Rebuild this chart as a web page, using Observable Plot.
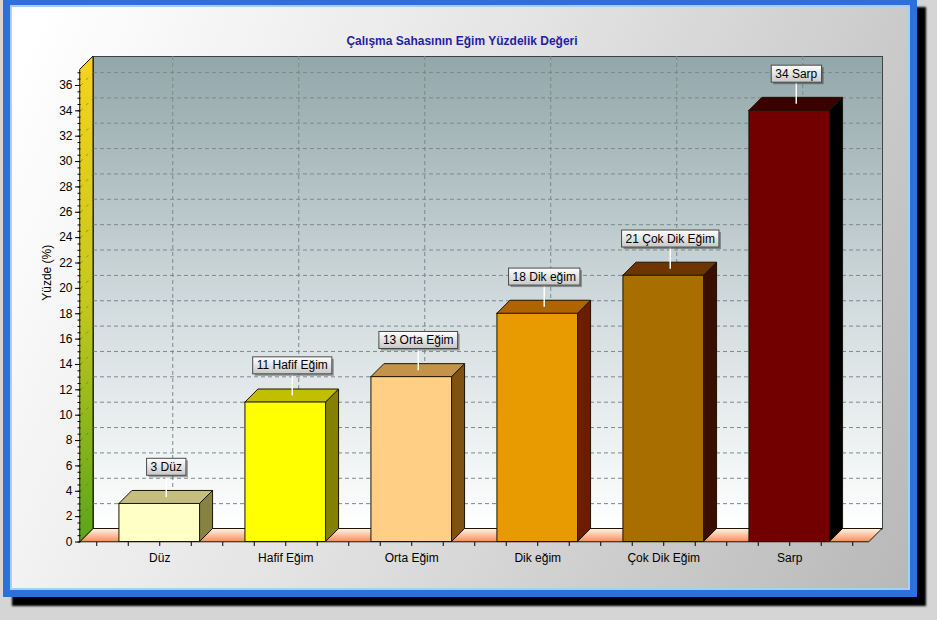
<!DOCTYPE html>
<html>
<head>
<meta charset="utf-8">
<script src="https://cdn.jsdelivr.net/npm/d3@7"></script>
<script src="https://cdn.jsdelivr.net/npm/@observablehq/plot@0.6"></script>
<style>
  html, body { margin: 0; padding: 0; width: 937px; height: 620px; overflow: hidden; background: #d5d5d5; font-family: "Liberation Sans", Arial, sans-serif; }
  #panel { position: absolute; left: 3px; top: -2px; width: 900px; height: 585px;
    border: 7px solid #2a72da;
    box-shadow: inset 0 0 0 2px #a9cdf3, 9px 9px 2px #000;
    background: linear-gradient(115deg, #ffffff 3%, #e4e4e4 45%, #b8b8b8 100%); }
  #chart { position: absolute; left: 0; top: 0; }
  #title { position: absolute; left: 0; width: 924px; top: 34px; text-align: center;
    font: bold 12px "Liberation Sans", Arial, sans-serif; color: #1f1fa6; }
</style>
</head>
<body>
<div id="panel"></div>
<div id="chart"></div>
<div id="title">Çalışma Sahasının Eğim Yüzdelik Değeri</div>
<script>
// ---- data ----
const categories = ["Düz", "Hafif Eğim", "Orta Eğim", "Dik eğim", "Çok Dik Eğim", "Sarp"];
const values = [3, 11, 13, 18, 21, 34];
const frontColors = ["#ffffc6", "#ffff00", "#ffcf85", "#e89b00", "#a86f00", "#720000"];
const topColors   = ["#c4bf80", "#c2bf00", "#c4934a", "#b06400", "#6e3500", "#3a0000"];
const sideColors  = ["#85833f", "#848000", "#7e5212", "#6b1d00", "#3a0f00", "#000000"];
const yTicks = [0, 2, 4, 6, 8, 10, 12, 14, 16, 18, 20, 22, 24, 26, 28, 30, 32, 34, 36];
const yLabel = "Yüzde (%)";

// ---- layout ----
const W = 937, H = 620, mL = 80, mR = 68, mT = 69, mB = 78.5;
const xDomain = [-0.629, 5.633];
const yDomain = [0, 37.26];
const pxX = (W - mL - mR) / (xDomain[1] - xDomain[0]);
const pxY = (H - mT - mB) / (yDomain[1] - yDomain[0]);
const DEPTH = 13;
const dxu = DEPTH / pxX, dyu = DEPTH / pxY;
const hw = 0.32; // half bar width (fraction of step)

const bars = categories.map((c, i) => ({
  i, c, v: values[i], front: frontColors[i], top: topColors[i], side: sideColors[i],
  label: `${values[i]} ${c}`
}));
const sidePts = bars.flatMap(b => [
  {c: b.c, x: b.i + hw, y1: 0, y2: b.v, f: b.side},
  {c: b.c, x: b.i + hw + dxu, y1: dyu, y2: b.v + dyu, f: b.side}
]);
const topPts = bars.flatMap(b => [
  {c: b.c, y: b.v, x1: b.i - hw, x2: b.i + hw, f: b.top},
  {c: b.c, y: b.v + dyu, x1: b.i - hw + dxu, x2: b.i + hw + dxu, f: b.top}
]);
const floorPts = [
  {y: 0, x1: xDomain[0], x2: xDomain[1]},
  {y: dyu, x1: xDomain[0] + dxu, x2: xDomain[1] + dxu}
];
const leftWallPts = [
  {x: xDomain[0], y1: 0, y2: yDomain[1]},
  {x: xDomain[0] + dxu, y1: dyu, y2: yDomain[1] + dyu}
];
const minorY = d3.range(0, 37.01, 0.5);
const minorX = d3.range(-0.5, 5.51, 0.25);
const ink = "#1b1400";

const plot = Plot.plot({
  width: W, height: H,
  marginLeft: mL, marginRight: mR, marginTop: mT, marginBottom: mB,
  x: {domain: xDomain},
  y: {domain: yDomain},
  color: {type: "identity"},
  style: {background: "transparent", fontFamily: "'Liberation Sans', Arial, sans-serif", fontSize: "12px", color: "#000", overflow: "visible"},
  marks: [
    // back wall
    Plot.frame({fill: "url(#wallB)", stroke: "#3c4444", dx: DEPTH, dy: -DEPTH}),
    Plot.ruleY(yTicks.filter(v => v > 0), {dx: DEPTH, dy: -DEPTH, stroke: "#7b8a8c", strokeDasharray: "4,3"}),
    Plot.ruleX(bars, {x: "i", dx: DEPTH, dy: -DEPTH, stroke: "#7b8a8c", strokeDasharray: "4,3"}),
    // floor
    Plot.areaX(floorPts, {y: "y", x1: "x1", x2: "x2", fill: "url(#floorG)", stroke: ink, strokeWidth: 1}),
    // left wall
    Plot.areaY(leftWallPts, {x: "x", y1: "y1", y2: "y2", fill: "url(#wallL)", stroke: ink, strokeWidth: 1}),
    Plot.link(yTicks.filter(v => v > 0), {x1: () => xDomain[0], y1: v => v, x2: () => xDomain[0] + dxu, y2: v => v + dyu, stroke: "#6b6a10", strokeOpacity: 0.6, strokeDasharray: "3,5"}),
    // axis ticks
    Plot.link(minorY, {x1: () => xDomain[0] - 3 / pxX, x2: () => xDomain[0], y1: v => v, y2: v => v, stroke: "#000"}),
    Plot.link(minorX, {x1: v => v, x2: v => v, y1: () => 0, y2: () => -4 / pxY, stroke: "#000"}),
    Plot.axisY(yTicks, {tickSize: 5, tickPadding: 3, fontSize: 12, label: null}),
    Plot.axisX(bars.map(b => b.i), {tickSize: 0, tickPadding: 11, fontSize: 12, label: null, tickFormat: i => categories[i]}),
    Plot.text([yLabel], {frameAnchor: "left", rotate: -90, dx: -33, dy: -5, fontSize: 12}),
    // 3D bars
    Plot.areaY(sidePts, {x: "x", y1: "y1", y2: "y2", z: "c", fill: d => d.f, stroke: ink, strokeWidth: 1}),
    Plot.areaX(topPts, {y: "y", x1: "x1", x2: "x2", z: "c", fill: d => d.f, stroke: ink, strokeWidth: 1}),
    Plot.rect(bars, {x1: d => d.i - hw, x2: d => d.i + hw, y1: () => 0, y2: "v", fill: d => d.front, stroke: ink, strokeWidth: 1}),
    // value labels
    Plot.ruleX(bars, {x: d => d.i + dxu / 2, y1: d => d.v + dyu / 2, y2: d => d.v + dyu / 2 + 22 / pxY, stroke: "#ffffff", strokeWidth: 1.5}),
    Plot.text(bars, {x: d => d.i + dxu / 2, y: d => d.v + dyu / 2, dy: -30.5, text: "label", fontSize: 12, fill: "#000"})
  ]
});
document.getElementById("chart").appendChild(plot);

// gradients and label boxes
const svg = d3.select(plot);
const defs = svg.insert("defs", ":first-child");
function vgrad(id, stops) {
  const g = defs.append("linearGradient").attr("id", id).attr("x1", 0).attr("y1", 0).attr("x2", 0).attr("y2", 1);
  stops.forEach(([o, c]) => g.append("stop").attr("offset", o).attr("stop-color", c));
}
vgrad("wallB", [[0, "#93a7aa"], [0.55, "#d4dddf"], [1, "#ffffff"]]);
vgrad("wallL", [[0, "#f6d21e"], [0.5, "#c6c81e"], [1, "#5aa51b"]]);
vgrad("floorG", [[0, "#fff4ea"], [1, "#f3915a"]]);
vgrad("boxG", [[0, "#ffffff"], [1, "#c8c8c8"]]);

const labelSet = new Set(bars.map(b => b.label));
svg.selectAll("text").filter(function () { return labelSet.has(this.textContent); }).each(function () {
  const bb = this.getBBox();
  const parent = this.parentNode;
  const tr = this.getAttribute("transform");
  const NS = "http://www.w3.org/2000/svg";
  const sh = document.createElementNS(NS, "rect");
  const box = document.createElementNS(NS, "rect");
  const x = bb.x - 4, y = bb.y - 1.5, w = bb.width + 8, h = bb.height + 3;
  d3.select(sh).attr("x", x + 2).attr("y", y + 2).attr("width", w).attr("height", h).attr("fill", "rgba(0,0,0,0.35)").attr("stroke", "none");
  d3.select(box).attr("x", x).attr("y", y).attr("width", w).attr("height", h).attr("fill", "url(#boxG)").attr("stroke", "#4a4a4a").attr("stroke-width", 1);
  if (tr) { sh.setAttribute("transform", tr); box.setAttribute("transform", tr); }
  parent.insertBefore(sh, this);
  parent.insertBefore(box, this);
});
</script>
</body>
</html>
